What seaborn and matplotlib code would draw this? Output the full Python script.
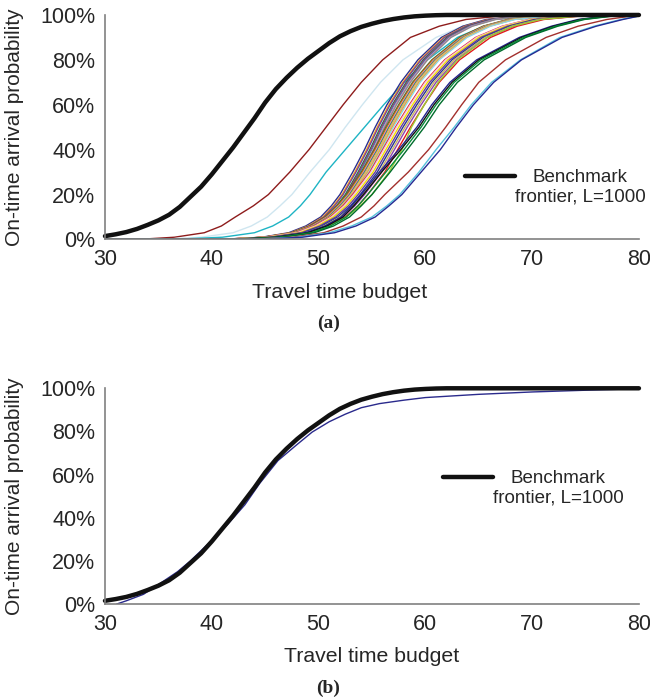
import pandas as pd
import seaborn as sns
import matplotlib.pyplot as plt
from matplotlib.ticker import FuncFormatter

# niveis de probabilidade (%) em que os tempos de cada curva foram lidos
niveis = [0, 1, 3, 6, 10, 15, 20, 30, 40, 50, 60, 70, 80, 90, 95, 98, 100]

# fronteira benchmark (L=1000)
bench_x = [30, 31, 32, 33, 34, 35, 36, 37, 38, 39, 40, 41, 42, 43, 44, 45, 46, 47, 48, 49,
           50, 51, 52, 53, 54, 55, 56, 57, 58, 59, 60, 61, 62, 80]
bench_p = [1.5, 2.3, 3.3, 4.7, 6.5, 8.5, 11, 14.5, 19, 23.5, 29, 35, 41, 47.5, 54, 61, 67, 72,
           76.5, 80.5, 84, 87.5, 90.5, 92.8, 94.7, 96.1, 97.3, 98.2, 98.9, 99.4, 99.7, 99.9, 100, 100]

# (a) curvas coloridas: tempo em que cada nivel e atingido
t_verm1 = [33.0, 36.5, 39.3, 40.9, 42.2, 43.9, 45.3, 47.3, 49.1, 50.7, 52.3, 54.0, 56.0, 58.6, 61.3, 63.8, 68.0]
t_claro = [35.0, 39.0, 42.0, 43.7, 45.2, 46.4, 47.5, 49.2, 51.0, 52.5, 54.1, 55.8, 57.9, 61.0, 63.5, 66.0, 72.0]
t_ciano = [36.0, 41.0, 44.0, 45.7, 47.2, 48.3, 49.2, 50.7, 52.5, 54.3, 56.1, 58.0, 60.2, 63.0, 65.5, 68.0, 74.0]
t01 = [40.7, 44.7, 47.2, 48.8, 50.2, 51.2, 52.0, 53.2, 54.3, 55.3, 56.4, 57.7, 59.3, 61.5, 63.5, 65.7, 69.7]
t02 = [40.9, 44.9, 47.4, 49.0, 50.4, 51.4, 52.2, 53.4, 54.5, 55.5, 56.6, 57.9, 59.5, 61.7, 63.7, 65.9, 69.9]
t03 = [41.0, 45.0, 47.5, 49.1, 50.5, 51.5, 52.3, 53.5, 54.6, 55.6, 56.7, 58.0, 59.6, 61.8, 63.8, 66.0, 70.0]
t04 = [41.2, 45.2, 47.7, 49.3, 50.7, 51.7, 52.5, 53.7, 54.8, 55.8, 56.9, 58.2, 59.8, 62.0, 64.0, 66.2, 70.2]
t05 = [41.3, 45.3, 47.8, 49.4, 50.8, 51.8, 52.6, 53.8, 54.9, 55.9, 57.0, 58.3, 59.9, 62.1, 64.1, 66.3, 70.3]
t06 = [41.4, 45.4, 47.9, 49.5, 50.9, 51.9, 52.7, 53.9, 55.0, 56.0, 57.1, 58.4, 60.0, 62.2, 64.2, 66.4, 70.4]
t07 = [41.5, 45.5, 48.0, 49.6, 51.0, 52.0, 52.8, 54.0, 55.1, 56.1, 57.2, 58.5, 60.1, 62.3, 64.3, 66.5, 70.5]
t08 = [41.6, 45.6, 48.1, 49.7, 51.1, 52.1, 52.9, 54.1, 55.2, 56.2, 57.3, 58.6, 60.2, 62.4, 64.4, 66.6, 70.6]
t09 = [40.8, 44.8, 47.5, 49.2, 50.6, 51.7, 52.6, 54.0, 55.2, 56.3, 57.5, 58.8, 60.6, 63.2, 65.4, 67.7, 71.8]
t10 = [40.9, 44.9, 47.6, 49.3, 50.7, 51.8, 52.7, 54.1, 55.3, 56.4, 57.6, 58.9, 60.7, 63.3, 65.5, 67.8, 71.9]
t11 = [41.0, 45.0, 47.7, 49.4, 50.8, 51.9, 52.8, 54.2, 55.4, 56.5, 57.7, 59.0, 60.8, 63.4, 65.6, 67.9, 72.0]
t12 = [41.1, 45.1, 47.8, 49.5, 50.9, 52.0, 52.9, 54.3, 55.5, 56.6, 57.8, 59.1, 60.9, 63.5, 65.7, 68.0, 72.1]
t13 = [41.2, 45.2, 47.9, 49.6, 51.0, 52.1, 53.0, 54.4, 55.6, 56.7, 57.9, 59.2, 61.0, 63.6, 65.8, 68.1, 72.2]
t14 = [41.3, 45.3, 48.0, 49.7, 51.1, 52.2, 53.1, 54.5, 55.7, 56.8, 58.0, 59.3, 61.1, 63.7, 65.9, 68.2, 72.3]
t15 = [41.4, 45.4, 48.1, 49.8, 51.2, 52.3, 53.2, 54.6, 55.8, 56.9, 58.1, 59.4, 61.2, 63.8, 66.0, 68.3, 72.4]
t16 = [41.5, 45.5, 48.2, 49.9, 51.3, 52.4, 53.3, 54.7, 55.9, 57.0, 58.2, 59.5, 61.3, 63.9, 66.1, 68.4, 72.5]
t17 = [40.7, 44.9, 47.9, 49.6, 51.1, 52.3, 53.2, 54.8, 56.0, 57.2, 58.5, 59.9, 61.8, 64.7, 67.2, 69.7, 74.2]
t18 = [40.8, 45.0, 48.0, 49.7, 51.2, 52.4, 53.3, 54.9, 56.1, 57.3, 58.6, 60.0, 61.9, 64.8, 67.3, 69.8, 74.3]
t19 = [41.0, 45.2, 48.2, 49.9, 51.4, 52.6, 53.5, 55.1, 56.3, 57.5, 58.8, 60.2, 62.1, 65.0, 67.5, 70.0, 74.5]
t20 = [41.2, 45.4, 48.4, 50.1, 51.6, 52.8, 53.7, 55.3, 56.5, 57.7, 59.0, 60.4, 62.3, 65.2, 67.7, 70.2, 74.7]
t21 = [41.4, 45.6, 48.6, 50.3, 51.8, 53.0, 53.9, 55.5, 56.7, 57.9, 59.2, 60.6, 62.5, 65.4, 67.9, 70.4, 74.9]
t22 = [41.6, 45.8, 48.8, 50.5, 52.0, 53.2, 54.1, 55.7, 56.9, 58.1, 59.4, 60.8, 62.7, 65.6, 68.1, 70.6, 75.1]
t23 = [41.8, 46.0, 49.0, 50.7, 52.2, 53.4, 54.3, 55.9, 57.1, 58.3, 59.6, 61.0, 62.9, 65.8, 68.3, 70.8, 75.3]
t24 = [42.1, 46.3, 49.3, 51.0, 52.5, 53.7, 54.6, 56.2, 57.4, 58.6, 59.9, 61.3, 63.2, 66.1, 68.6, 71.1, 75.6]
t_oliva = [41.0, 46.0, 49.2, 51.0, 52.6, 53.9, 55.0, 56.6, 57.8, 58.7, 59.9, 61.2, 63.0, 65.8, 68.2, 70.8, 75.5]
t_marinho = [41.8, 45.8, 48.8, 50.6, 52.1, 53.1, 54.0, 55.7, 57.5, 59.2, 60.6, 62.3, 64.8, 68.8, 71.8, 74.3, 77.8]
t_preto = [42.0, 46.0, 49.0, 50.8, 52.3, 53.3, 54.2, 55.9, 57.7, 59.4, 60.8, 62.5, 65.0, 69.0, 72.0, 74.5, 78.0]
t_verde = [42.3, 46.3, 49.3, 51.1, 52.6, 53.7, 54.6, 56.3, 58.0, 59.6, 61.0, 62.7, 65.2, 69.2, 72.2, 74.7, 78.2]
t_verde2 = [42.6, 46.6, 49.6, 51.4, 52.9, 54.0, 55.0, 56.7, 58.3, 59.9, 61.3, 63.0, 65.5, 69.4, 72.4, 74.9, 78.4]
t_verm2 = [43.0, 47.5, 50.5, 52.3, 54.0, 55.2, 56.2, 58.4, 60.3, 61.9, 63.4, 65.0, 67.5, 71.3, 74.3, 77.0, 80.0]
t_azulclaro = [43.5, 48.0, 51.0, 53.1, 55.0, 56.4, 57.6, 59.4, 61.0, 62.7, 64.3, 66.2, 68.9, 72.6, 75.8, 78.3, 80.5]
t_azul = [44.0, 48.5, 51.5, 53.5, 55.3, 56.6, 57.8, 59.6, 61.4, 62.9, 64.5, 66.4, 69.0, 72.8, 76.0, 78.5, 80.5]

curvas_a = [t_verm1, t_claro, t_ciano, t01, t02, t03, t04, t05, t06, t07, t08, t09, t10, t11, t12,
            t13, t14, t15, t16, t17, t18, t19, t20, t21, t22, t23, t24, t_oliva, t_marinho,
            t_preto, t_verde, t_verde2, t_verm2, t_azulclaro, t_azul]
cores_a = ['#8e1c1c', '#cfe6f0', '#1eb4c4', '#2c2f8f', '#f39c12', '#7e3f98', '#0e8a3e', '#c2187a',
           '#1b9e9e', '#e377c2', '#8c8c8c', '#556b2f', '#b5651d', '#f4a582', '#1f5fbf', '#ffd400',
           '#b39ddb', '#ffb000', '#8fd3e8', '#d7263d', '#f7c6d9', '#f2e200', '#6a3d9a', '#283593',
           '#c8b560', '#8e44ad', '#e31a1c', '#9acd32', '#23238e', '#111111', '#0a8f3c', '#006d2c',
           '#a3302d', '#56c1dc', '#262a93']

# (b) uma unica curva comparada com o benchmark
b_x = [31.1, 32, 33.6, 35, 36.8, 38, 39.9, 41.5, 43.1, 44.5, 46.2, 48, 49.4, 51, 52.5, 54,
       55.7, 58, 60, 65, 70, 75, 80]
b_p = [0, 1.5, 4.5, 9, 15, 20, 29, 37, 46, 56, 66.5, 74, 79.7, 84.5, 88, 91,
       92.9, 94.5, 95.7, 97.2, 98.3, 99.1, 99.8]

linhas = []
for i, t in enumerate(curvas_a):
    xs = [30] + t
    ps = [0] + niveis
    if t[-1] < 80:
        xs = xs + [80]
        ps = ps + [100]
    for x, p in zip(xs, ps):
        linhas.append({'curva': 'c%02d' % i, 'tempo': x, 'prob': p})
dados_a = pd.DataFrame(linhas)
paleta = {'c%02d' % i: c for i, c in enumerate(cores_a)}

sns.set_style('white')
plt.rcParams['font.family'] = ['Liberation Sans', 'DejaVu Sans']
cinza = '#808080'
texto = '#262626'

fig = plt.figure(figsize=(6.5, 7), dpi=100)
ax1 = fig.add_axes([0.1615, 0.6579, 0.8215, 0.3207])
ax2 = fig.add_axes([0.1615, 0.1371, 0.8215, 0.3082])

sns.lineplot(data=dados_a, x='tempo', y='prob', hue='curva', palette=paleta, estimator=None,
             legend=False, lw=1.0, ax=ax1)
sns.lineplot(x=bench_x, y=bench_p, color='#111111', lw=3.2, label='Benchmark\nfrontier, L=1000',
             ax=ax1, clip_on=False)

sns.lineplot(x=b_x, y=b_p, color='#2a2a8c', lw=1.0, estimator=None, ax=ax2)
sns.lineplot(x=bench_x, y=bench_p, color='#111111', lw=3.2, label='Benchmark\nfrontier, L=1000',
             ax=ax2, clip_on=False)

pct = FuncFormatter(lambda v, pos: '%d%%' % v)
for ax, leg_pos, xl in [(ax1, (0.674, 0.234), 0.44), (ax2, (0.633, 0.538), 0.5)]:
    ax.set_xlim(30, 80)
    ax.set_ylim(0, 100)
    ax.set_xticks([30, 40, 50, 60, 70, 80])
    ax.set_yticks([0, 20, 40, 60, 80, 100])
    ax.yaxis.set_major_formatter(pct)
    for s in ['top', 'right']:
        ax.spines[s].set_visible(False)
    for s in ['left', 'bottom']:
        ax.spines[s].set_color(cinza)
        ax.spines[s].set_linewidth(1.2)
    ax.tick_params(direction='in', length=5, width=1.2, color=cinza, labelsize=15.5,
                   labelcolor=texto, pad=7)
    ax.set_xlabel('Travel time budget', fontsize=15.3, color=texto, labelpad=9)
    ax.xaxis.label.set_x(xl)
    ax.set_ylabel('On-time arrival probability', fontsize=15, color=texto)
    ax.yaxis.set_label_coords(-0.152, 0.5)
    leg = ax.legend(loc='center left', bbox_to_anchor=leg_pos, frameon=False, fontsize=13.5,
                    handlelength=2.65, handletextpad=0.0, borderpad=0, borderaxespad=0)
    for t in leg.get_texts():
        t.set_color(texto)
        t.set_multialignment('center')
    h = leg.legend_handles[0]
    h.set_linewidth(3.2)
    yd = h.get_ydata()
    h.set_ydata([v + 8 for v in yd])

fig.text(0.505, 1 - 323 / 700, '(a)', ha='center', va='center', fontsize=14,
         family='Liberation Serif', weight='bold', color=texto)
fig.text(0.505, 1 - 688 / 700, '(b)', ha='center', va='center', fontsize=14,
         family='Liberation Serif', weight='bold', color=texto)

fig.savefig('out.png', dpi=100)
